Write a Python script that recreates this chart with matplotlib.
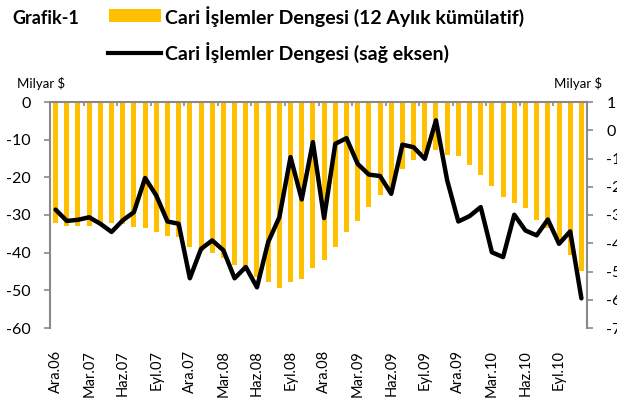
import matplotlib
matplotlib.use("Agg")
import matplotlib.pyplot as plt
import numpy as np
from matplotlib.patches import Rectangle
from matplotlib.lines import Line2D

plt.rcParams['font.family'] = ['Lato', 'DejaVu Sans']

months = ["Ara.06", "Oca.07", "Şub.07", "Mar.07", "Nis.07", "May.07", "Haz.07", "Tem.07", "Ağu.07",
          "Eyl.07", "Eki.07", "Kas.07", "Ara.07", "Oca.08", "Şub.08", "Mar.08", "Nis.08", "May.08",
          "Haz.08", "Tem.08", "Ağu.08", "Eyl.08", "Eki.08", "Kas.08", "Ara.08", "Oca.09", "Şub.09",
          "Mar.09", "Nis.09", "May.09", "Haz.09", "Tem.09", "Ağu.09", "Eyl.09", "Eki.09", "Kas.09",
          "Ara.09", "Oca.10", "Şub.10", "Mar.10", "Nis.10", "May.10", "Haz.10", "Tem.10", "Ağu.10",
          "Eyl.10", "Eki.10", "Kas.10"]

cumulative_12m = [-32.2, -33.0, -33.0, -33.0, -32.5, -32.1, -32.5, -33.3, -33.5, -34.5, -35.5, -35.9,
                  -38.4, -39.5, -40.0, -41.5, -43.2, -44.5, -46.5, -47.9, -49.3, -47.9, -47.0, -44.1,
                  -42.0, -38.4, -34.6, -31.6, -27.9, -24.7, -22.5, -17.9, -15.5, -13.5, -12.7, -14.1,
                  -14.3, -16.8, -19.3, -22.3, -25.3, -26.7, -28.1, -31.4, -33.5, -36.5, -40.7, -44.8]

monthly = [-2.81, -3.21, -3.17, -3.08, -3.31, -3.60, -3.19, -2.90, -1.69, -2.31, -3.23, -3.31,
           -5.24, -4.20, -3.90, -4.25, -5.24, -4.84, -5.56, -3.96, -3.08, -0.95, -2.45, -0.42,
           -3.11, -0.48, -0.28, -1.19, -1.57, -1.62, -2.25, -0.51, -0.60, -1.01, 0.35, -1.77,
           -3.23, -3.04, -2.72, -4.32, -4.49, -2.99, -3.55, -3.72, -3.16, -4.02, -3.58, -5.95]

left_ticks = [0, -10, -20, -30, -40, -50, -60]
right_ticks = [1, 0, -1, -2, -3, -4, -5, -6, -7]

title = "Grafik-1"
bar_label = "Cari İşlemler Dengesi (12 Aylık kümülatif)"
line_label = "Cari İşlemler Dengesi (sağ eksen)"
unit = "Milyar $"

BAR = "#FFC000"
GRID = "#898989"

fig = plt.figure(figsize=(6.17, 4.07), dpi=100)
ax = fig.add_axes([50/617, 1-328/407, 537/617, 226/407])
x = np.arange(len(months))
ax.bar(x, cumulative_12m, width=0.45, color=BAR, zorder=1)
ax.set_xlim(-0.5, len(months)-0.5)
ax.set_ylim(-60, 0)
ax.set_yticks(left_ticks)
ax.set_yticklabels([str(t) for t in left_ticks], fontsize=11.5)
for s in ['bottom', 'right']:
    ax.spines[s].set_visible(False)
for s in ['top', 'left']:
    ax.spines[s].set_color(GRID)
    ax.spines[s].set_linewidth(1.5)
ax.tick_params(axis='y', colors=GRID, labelcolor='black', length=4, width=1.2, pad=10)

ax.set_xticks(x[::3])
ax.set_xticklabels(months[::3], rotation=90, fontsize=10.5)
ax.set_xticks(np.arange(2.5, len(months)-1, 3), minor=True)
ax.tick_params(axis='x', which='major', length=0, pad=16, bottom=True, top=False)
ax.tick_params(axis='x', which='minor', bottom=False, top=True, direction='in', length=3,
               width=1.2, color=GRID)

ax2 = ax.twinx()
ax2.plot(x, monthly, color='black', lw=3.2, solid_joinstyle='round', solid_capstyle='round', zorder=3)
ax2.set_ylim(-7, 1)
ax2.set_yticks(right_ticks)
ax2.set_yticklabels([str(t) for t in right_ticks], fontsize=11.5)
for s in ['top', 'bottom', 'left']:
    ax2.spines[s].set_visible(False)
ax2.spines['right'].set_color(GRID)
ax2.spines['right'].set_linewidth(1.5)
ax2.tick_params(axis='y', colors=GRID, labelcolor='black', length=4, width=1.2, pad=10)

fig.text(12/617, 1-19/407, title, fontsize=13, fontweight='bold', va='center', ha='left')
fig.patches.append(Rectangle((109/617, 1-22/407), 52/617, 13/407, transform=fig.transFigure,
                             facecolor=BAR, edgecolor='none'))
fig.text(165/617, 1-17/407, bar_label, fontsize=14, fontweight='bold', va='center', ha='left')
fig.lines.append(Line2D([108/617, 161/617], [1-53/407, 1-53/407], transform=fig.transFigure,
                        color='black', lw=3))
fig.text(165/617, 1-53/407, line_label, fontsize=14, fontweight='bold', va='center', ha='left')
fig.text(17/617, 1-83/407, unit, fontsize=9.5, va='center', ha='left')
fig.text(554/617, 1-83/407, unit, fontsize=9.5, va='center', ha='left')

fig.savefig("out.png", dpi=100)
